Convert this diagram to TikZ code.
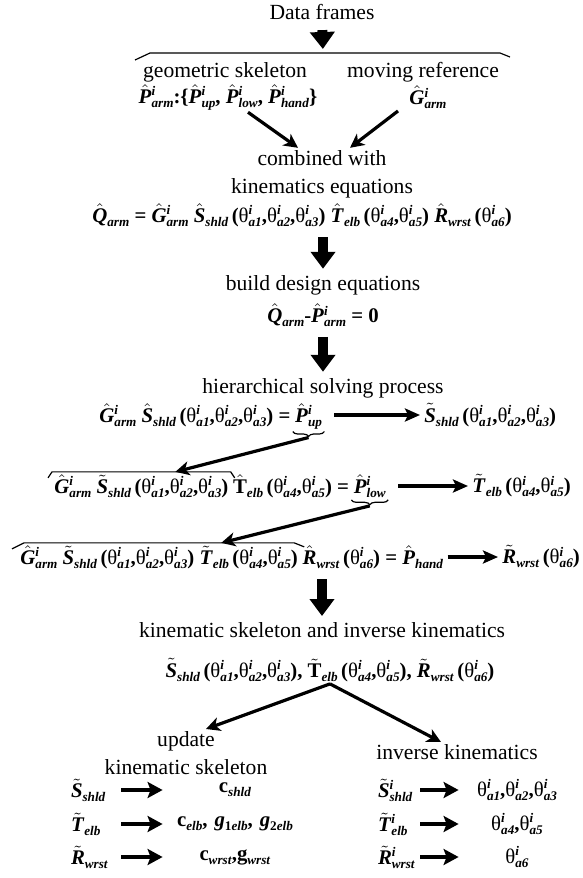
\documentclass[tikz,border=0pt]{standalone}
\usepackage{amsmath}
\usepackage{fontspec}
\setmainfont{Liberation Serif}
\usetikzlibrary{arrows.meta,calc,decorations.pathreplacing}

% bold italic pieces of the formulas
\newcommand{\bi}[1]{\textbf{\textit{#1}}}
\newcommand{\scr}[2]{%
  \makebox[0pt][l]{\raisebox{3.7pt}{\fontsize{6.6}{7}\selectfont\bi{#1}}}%
  \raisebox{-2pt}{\fontsize{6.6}{7}\selectfont\bi{#2}}}
\newcommand{\sbs}[1]{\raisebox{-2pt}{\fontsize{6.6}{7}\selectfont\bi{#1}}}
\newcommand{\hsym}[3]{$\hat{\text{\bi{#1}}}$\scr{#2}{#3}}
\newcommand{\hsub}[2]{$\hat{\text{\bi{#1}}}$\sbs{#2}}
\newcommand{\tsym}[3]{$\tilde{\text{\bi{#1}}}$\scr{#2}{#3}}
\newcommand{\tsub}[2]{$\tilde{\text{\bi{#1}}}$\sbs{#2}}
\newcommand{\ang}[1]{{\mdseries θ}\scr{i}{a#1}}

\begin{document}
\begin{tikzpicture}[
  x=0.5pt, y=-0.5pt,
  font=\fontsize{10.8}{14}\selectfont,
  every node/.style={inner sep=1pt},
  sym/.style={font=\fontsize{10.4}{14}\selectfont\bfseries},
  lkey/.style={sym, text width=22pt, align=left},
  rkey/.style={sym, text width=18pt, align=left},
  lres/.style={sym, text width=70pt, align=center},
  rres/.style={sym, text width=56pt, align=center},
  brace/.style={draw, line width=0.6pt},
  ubrace/.style={draw, line width=0.6pt,
    decorate, decoration={brace, amplitude=2.5pt}},
  bigarrow/.style={draw, line width=5pt, -{Triangle[length=8.5pt,width=12pt]},
    shorten <=4pt, shorten >=2pt},
  slant/.style={draw, line width=1.6pt, -{Stealth[length=7pt,width=7pt,inset=2pt]}},
  rowarrow/.style={draw, line width=1.6pt, -{Stealth[length=7.5pt,width=6.5pt,inset=1.5pt]},
    shorten >=1pt},
  tabarrow/.style={draw, line width=2pt, -{Stealth[length=7.5pt,width=8pt,inset=1.5pt]},
    shorten <=2pt}]

  \useasboundingbox (0,0) rectangle (583,878);

  % top part
  \node (frames) at (322,12) {Data frames};
  \coordinate (top) at (323,53);
  \draw[brace] (135,60) -- (150,53) -- (500,53) -- (510,57);
  \node (geo) at (225,72) {geometric skeleton};
  \node (mov) at (423,72) {moving reference};
  \node[sym] (pset) at (228,97) {\hsym{P}{i}{arm}:\{\hsym{P}{i}{up}, \hsym{P}{i}{low}, \hsym{P}{i}{hand}\}};
  \node[sym] (garm) at (428,97) {\hsym{G}{i}{arm}};
  \node[align=center] (comb) at (322,174) {combined with\\kinematics equations};
  \node[sym] (qarm) at (302,215) {\hsub{Q}{arm} = \hsym{G}{i}{arm} \hsub{S}{shld}\,(\ang1,\ang2,\ang3) \hsub{T}{elb}\,(\ang4,\ang5) \hsub{R}{wrst}\,(\ang6)};
  \node (design) at (323,285) {build design equations};
  \node[sym] (zero) at (323,315) {\hsub{Q}{arm}-\hsym{P}{i}{arm} = 0};
  \node (hier) at (323,388) {hierarchical solving process};

  % solving rows
  \node[sym, anchor=west] (r1a) at (97,415) {\hsym{G}{i}{arm} \hsub{S}{shld}\,(\ang1,\ang2,\ang3) =};
  \node[sym, anchor=base west] (pup) at (r1a.base east) {\hsym{P}{i}{up}};
  \node[sym, anchor=west] (r1c) at (422,415) {\tsub{S}{shld}\,(\ang1,\ang2,\ang3)};

  \node[sym, anchor=west] (r2a) at (52,486) {\hsym{G}{i}{arm} \tsub{S}{shld}\,(\ang1,\ang2,\ang3)};
  \node[sym, anchor=base west] (r2b) at (r2a.base east) {$\hat{\textbf{T}}$\sbs{elb}\,(\ang4,\ang5) =};
  \node[sym, anchor=base west] (plow) at (r2b.base east) {\hsym{P}{i}{low}};
  \node[sym, anchor=west] (r2c) at (470,486) {\tsub{T}{elb}\,(\ang4,\ang5)};

  \node[sym, anchor=west] (r3a) at (18,557) {\hsym{G}{i}{arm} \tsub{S}{shld}\,(\ang1,\ang2,\ang3) \tsub{T}{elb}\,(\ang4,\ang5)};
  \node[sym, anchor=base west] (r3b) at (r3a.base east) {\hsub{R}{wrst}\,(\ang6) = \hsub{P}{hand}};
  \node[sym, anchor=west] (r3c) at (500,557) {\tsub{R}{wrst}\,(\ang6)};

  % under-braces of the solved values
  \draw[ubrace] (pup.south east) -- (pup.south west);
  \draw[ubrace] (plow.south east) -- (plow.south west);
  \coordinate (tip1) at ([yshift=-3pt]pup.south);
  \coordinate (tip2) at ([yshift=-3pt]plow.south);

  % over-braces of the solved parts
  \draw[brace] ([xshift=-2pt,yshift=-3pt]r2a.north west) -- (r2a.north west)
    -- (r2a.north east) -- ([xshift=2pt,yshift=-3pt]r2a.north east);
  \draw[brace] ([xshift=-3pt,yshift=-3pt]r3a.north west) -- ([xshift=3pt]r3a.north west)
    -- ([xshift=-3pt]r3a.north east) -- ([xshift=2pt,yshift=-2pt]r3a.north east);
  \coordinate (hit2) at ($(r2a.north west)!0.69!(r2a.north east)$);
  \coordinate (hit3) at ($(r3a.north west)!0.72!(r3a.north east)$);

  % bottom part
  \node (ksk) at (322,630) {kinematic skeleton and inverse kinematics};
  \node[sym] (kl) at (330,670) {\tsub{S}{shld}\,(\ang1,\ang2,\ang3), $\tilde{\textbf{T}}$\sbs{elb}\,(\ang4,\ang5), \tsub{R}{wrst}\,(\ang6)};
  \node[align=center] (upd) at (186,753) {update\\kinematic skeleton};
  \node (inv) at (457,752) {inverse kinematics};

  \node[lkey] (lk1) at (93,790) {\tsub{S}{shld}};
  \node[lkey] (lk2) at (93,824) {\tsub{T}{elb}};
  \node[lkey] (lk3) at (93,857) {\tsub{R}{wrst}};
  \node[lres] (lr1) at (235,790) {c\sbs{shld}};
  \node[lres] (lr2) at (235,824) {c\sbs{elb}, \bi{g}\sbs{\textup{1}elb}, \bi{g}\sbs{\textup{2}elb}};
  \node[lres] (lr3) at (235,857) {c\sbs{wrst},g\sbs{wrst}};

  \node[rkey] (rk1) at (396,790) {\tsym{S}{i}{shld}};
  \node[rkey] (rk2) at (396,824) {\tsym{T}{i}{elb}};
  \node[rkey] (rk3) at (396,857) {\tsym{R}{i}{wrst}};
  \node[rres] (rr1) at (517,790) {\ang1,\ang2,\ang3};
  \node[rres] (rr2) at (517,824) {\ang4,\ang5};
  \node[rres] (rr3) at (517,857) {\ang6};

  % arrows
  \draw[bigarrow] (frames.south) -- (top);
  \draw[slant] ([xshift=10pt]pset.south) -- ([xshift=-12pt]comb.north);
  \draw[slant] ([xshift=-15pt]garm.south) -- ([xshift=14pt]comb.north);
  \draw[bigarrow] (design.north |- qarm.south) -- (design.north);
  \draw[bigarrow] (zero.south) -- (hier.north);
  \draw[rowarrow, shorten <=5pt] (pup.east |- r1c.west) -- (r1c.west);
  \draw[rowarrow, shorten <=5pt] (plow.east |- r2c.west) -- (r2c.west);
  \draw[rowarrow, shorten <=1pt] (r3b.east |- r3c.west) -- (r3c.west);
  \draw[slant] (tip1) -- (hit2);
  \draw[slant] (tip2) -- (hit3);
  \draw[bigarrow] (ksk.north |- r3b.south) -- (ksk.north);
  \draw[slant] (kl.south) -- ([xshift=10pt]upd.north);
  \draw[slant] (kl.south) -- ([xshift=-8pt]inv.north);
  \foreach \i in {1,2,3} {
    \draw[tabarrow] (lk\i) -- (lr\i);
    \draw[tabarrow] (rk\i) -- (rr\i);
  }
\end{tikzpicture}
\end{document}
